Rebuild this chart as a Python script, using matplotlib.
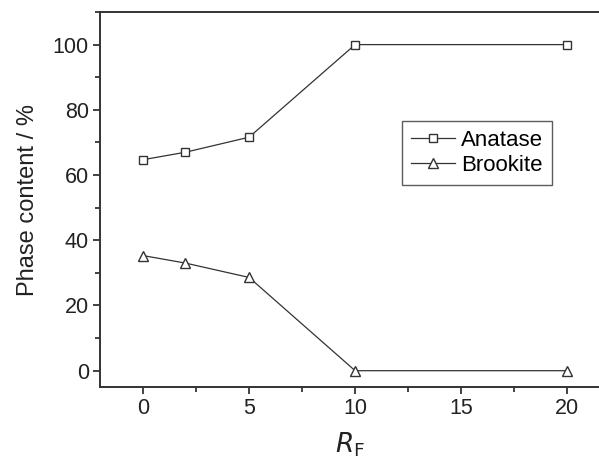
import matplotlib
matplotlib.use("Agg")
import matplotlib.pyplot as plt
from matplotlib.ticker import MultipleLocator

plt.rcParams['font.family'] = ['Liberation Sans', 'DejaVu Sans']

rf = [0, 2, 5, 10, 20]
anatase = [64.7, 67.0, 71.6, 100, 100]
brookite = [35.3, 33.0, 28.6, 0, 0]

fig = plt.figure(figsize=(5.99, 4.59), dpi=100)
ax = fig.add_axes([100/599, 72/459, 1 - 100/599, (387-12)/459])

col = '#333333'
ax.plot(rf, anatase, '-s', color=col, lw=0.9, ms=5.5, mfc='white', mec=col, mew=1.0, label='Anatase')
ax.plot(rf, brookite, '-^', color=col, lw=0.9, ms=7, mfc='white', mec=col, mew=1.0, label='Brookite')

ax.set_xlim(-2.03, 21.5)
ax.set_ylim(-5, 110)
ax.xaxis.set_major_locator(MultipleLocator(5))
ax.xaxis.set_minor_locator(MultipleLocator(2.5))
ax.yaxis.set_major_locator(MultipleLocator(20))
ax.yaxis.set_minor_locator(MultipleLocator(10))
ax.tick_params(which='both', direction='out', labelsize=15.5, colors='#222222', width=1.2)
ax.tick_params(which='major', length=5, pad=3)
ax.tick_params(which='minor', length=3.5)
ax.spines['right'].set_visible(False)
for s in ['left', 'bottom', 'top']:
    ax.spines[s].set_linewidth(1.4)
    ax.spines[s].set_color('#333333')

ax.set_ylabel('Phase content / %', fontsize=17, color='#222222', labelpad=10)
ax.set_xlabel('$R_\\mathrm{F}$', fontsize=19, color='#222222', labelpad=8)

leg = ax.legend(loc='upper left', bbox_to_anchor=(0.605, 0.71), fontsize=16, frameon=True,
                fancybox=False, handlelength=2.0, handletextpad=0.25, borderpad=0.4,
                labelspacing=0.2, borderaxespad=0)
leg.get_frame().set_edgecolor('#333333')
leg.get_frame().set_linewidth(1.0)

fig.savefig('out.png', dpi=100)
